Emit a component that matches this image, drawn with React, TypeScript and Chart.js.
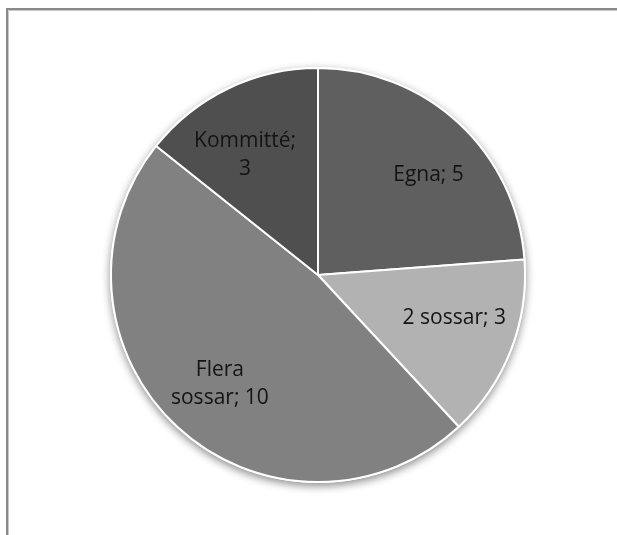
import React, { useEffect, useRef } from "react";
import { Chart, registerables } from "chart.js";

Chart.register(...registerables);

const categories: string[] = ["Egna", "2 sossar", "Flera sossar", "Kommitté"];
const values: number[] = [5, 3, 10, 3];
const sliceColors: string[] = ["#5f5f5f", "#b2b2b2", "#818181", "#4f4f4f"];

const FONT = '"Open Sans", "DejaVu Sans", sans-serif';

export default function App() {
  const canvasRef = useRef<HTMLCanvasElement | null>(null);

  useEffect(() => {
    document.body.style.margin = "0";
    const canvas = canvasRef.current;
    if (!canvas) return;

    const framePlugin = {
      id: "frame",
      beforeDraw(chart: any) {
        const ctx = chart.ctx;
        ctx.save();
        ctx.fillStyle = "#ffffff";
        ctx.fillRect(0, 0, chart.width, chart.height);
        ctx.strokeStyle = "#8a8a8a";
        ctx.lineWidth = 2;
        ctx.beginPath();
        ctx.moveTo(7, chart.height);
        ctx.lineTo(7, 9);
        ctx.lineTo(chart.width, 9);
        ctx.stroke();
        ctx.strokeStyle = "#c8c8c8";
        ctx.lineWidth = 1;
        ctx.beginPath();
        ctx.moveTo(8.5, chart.height);
        ctx.lineTo(8.5, 10.5);
        ctx.lineTo(chart.width, 10.5);
        ctx.stroke();
        ctx.restore();
      },
    };

    const shadowPlugin = {
      id: "pieShadow",
      beforeDatasetsDraw(chart: any) {
        const meta = chart.getDatasetMeta(0);
        const arc = meta.data[0];
        if (!arc) return;
        const { x, y, outerRadius } = arc.getProps(["x", "y", "outerRadius"], true);
        const ctx = chart.ctx;
        ctx.save();
        ctx.shadowColor = "rgba(0,0,0,0.45)";
        ctx.shadowBlur = 9;
        ctx.shadowOffsetX = 0;
        ctx.shadowOffsetY = 3;
        ctx.fillStyle = "#ffffff";
        ctx.beginPath();
        ctx.arc(x, y, outerRadius + 1, 0, Math.PI * 2);
        ctx.fill();
        ctx.restore();
      },
    };

    const wrapAfterWord = [0, 0, 1, 1];
    const radiusFactor = [0.72, 0.69, 0.71, 0.68];
    const angleNudgeDeg = [5, -4, -1, -5.5];

    const labelPlugin = {
      id: "sliceLabels",
      afterDatasetsDraw(chart: any) {
        const meta = chart.getDatasetMeta(0);
        const ctx = chart.ctx;
        ctx.save();
        ctx.font = `21px ${FONT}`;
        ctx.fillStyle = "#141414";
        ctx.textAlign = "center";
        ctx.textBaseline = "middle";
        meta.data.forEach((arc: any, i: number) => {
          const { x, y, startAngle, endAngle, outerRadius } = arc.getProps(
            ["x", "y", "startAngle", "endAngle", "outerRadius"],
            true
          );
          const mid = (startAngle + endAngle) / 2 + (angleNudgeDeg[i] * Math.PI) / 180;
          const r = outerRadius * radiusFactor[i];
          const cx = x + Math.cos(mid) * r;
          const cy = y + Math.sin(mid) * r;
          const text = `${categories[i]}; ${values[i]}`;
          const words = text.split(" ");
          const lines =
            wrapAfterWord[i] > 0
              ? [words.slice(0, wrapAfterWord[i]).join(" "), words.slice(wrapAfterWord[i]).join(" ")]
              : [text];
          const lh = 28;
          lines.forEach((ln, k) => {
            ctx.fillText(ln, cx, cy + (k - (lines.length - 1) / 2) * lh);
          });
        });
        ctx.restore();
      },
    };

    const chart = new Chart(canvas, {
      type: "pie",
      data: {
        labels: categories,
        datasets: [
          {
            data: values,
            backgroundColor: sliceColors,
            borderColor: "#ffffff",
            borderWidth: 2,
          },
        ],
      },
      options: {
        animation: false,
        responsive: false,
        maintainAspectRatio: false,
        layout: { padding: { left: 110, right: 91, top: 67, bottom: 52 } },
        plugins: {
          legend: { display: false },
          tooltip: { enabled: false },
        },
      },
      plugins: [framePlugin, shadowPlugin, labelPlugin],
    });

    return () => chart.destroy();
  }, []);

  return (
    <div style={{ width: 617, height: 535 }}>
      <canvas ref={canvasRef} width={617} height={535} style={{ display: "block" }} />
    </div>
  );
}
